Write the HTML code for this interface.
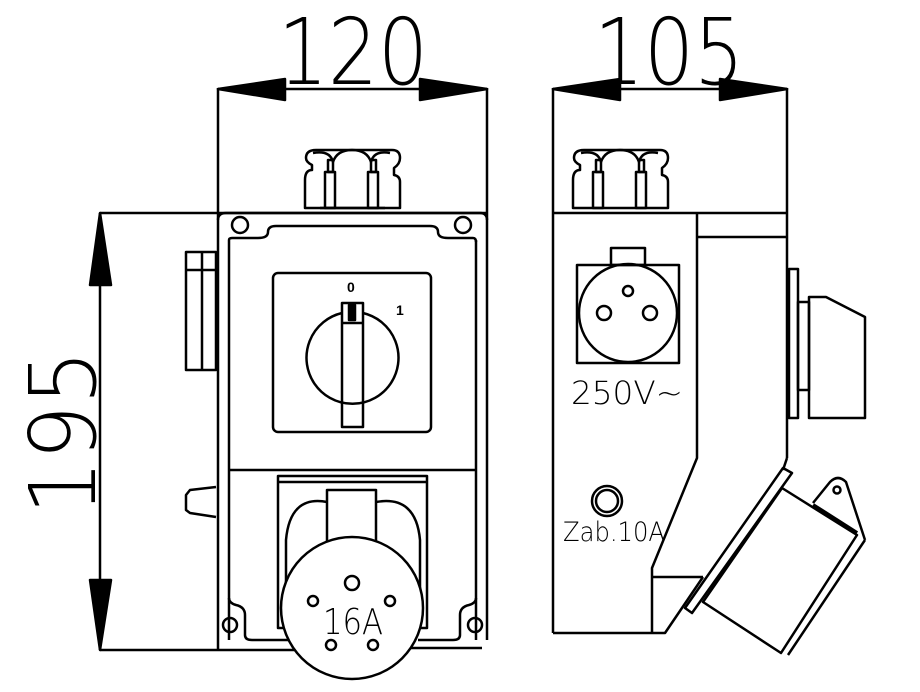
<!DOCTYPE html>
<html><head><meta charset="utf-8"><style>html,body{margin:0;padding:0;background:#fff}svg{display:block}</style></head>
<body>
<svg width="920" height="692" viewBox="0 0 920 692" xmlns="http://www.w3.org/2000/svg">
<g fill="none" stroke="#000" stroke-width="2.5" stroke-linejoin="round">
<line x1="218" y1="89" x2="487" y2="89"/>
<polygon points="218,89 285,79 285,100" fill="#000"/>
<polygon points="487,89 420,79 420,100" fill="#000"/>
<line x1="218" y1="88" x2="218" y2="650"/>
<line x1="487" y1="88" x2="487" y2="640"/>
<line x1="553" y1="89" x2="787" y2="89"/>
<polygon points="553,89 620,79 620,100" fill="#000"/>
<polygon points="787,89 720,79 720,100" fill="#000"/>
<line x1="553" y1="88" x2="553" y2="633"/>
<line x1="787" y1="88" x2="787" y2="458"/>
<line x1="100" y1="213" x2="100" y2="650"/>
<polygon points="100,213 90,285 111,285" fill="#000"/>
<polygon points="100,650 90,580 111,580" fill="#000"/>
<line x1="100" y1="213" x2="487" y2="213"/>
<line x1="100" y1="650" x2="300" y2="650"/>
<line x1="406" y1="648" x2="482" y2="648"/>

<path d="M218,220 Q218,213 226,213 L480,213 Q487,213 487,220"/>
<path d="M229,240 L229,640 M476,240 L476,640"/>
<path d="M232,238 L258,238 Q268,238 268,232 Q268,226 276,226 L430,226 Q438,226 438,232 Q438,238 448,238 L473,238 Q476,238 476,242"/>
<path d="M229,240 Q229,238 232,238"/>
<path d="M229,598 Q229,603 236,605 Q245,607 245,615 L245,635 Q245,640 252,640 L290,640"/>
<path d="M476,598 Q476,603 469,605 Q460,607 460,615 L460,635 Q460,640 453,640 L418,640"/>
<circle cx="240" cy="225" r="8"/><circle cx="463" cy="225" r="8"/>
<circle cx="230" cy="625" r="7"/><circle cx="475" cy="625" r="7"/>
<line x1="229" y1="470" x2="476" y2="470"/>
<rect x="273" y="273" width="158" height="159" rx="5"/>
<path d="M342,313 A46,46 0 1 0 363,313"/>
<rect x="342" y="303" width="21" height="124"/>
<line x1="342" y1="323" x2="363" y2="323"/>
<rect x="349" y="305" width="6" height="15" fill="#000"/>
<path d="M305,208 L305,180 Q305,170 312,170 L312,165 Q306,162 306,158 Q306,150 316,150 L392,150 Q400,150 400,158 Q400,164 394,168 L394,175 Q400,176 400,182 L400,208 Z"/>
<path d="M313,153 Q330,150 333,162 Q337,150 352,150 Q367,150 371,162 Q374,150 390,153"/>
<rect x="325" y="172" width="10" height="36"/><rect x="368" y="172" width="10" height="36"/>
<rect x="328" y="160" width="5" height="12"/><rect x="371" y="160" width="5" height="12"/>
<line x1="320" y1="208" x2="385" y2="208"/>
<rect x="186" y="252" width="30" height="118"/>
<line x1="202" y1="252" x2="202" y2="370"/>
<line x1="186" y1="270" x2="216" y2="270"/>
<path d="M216,487 L190,490 L186,495 L186,510 L190,513 L216,517"/>
<rect x="278" y="476" width="149" height="152"/>
<line x1="278" y1="482" x2="427" y2="482"/>
<path d="M286,612 L286,540 Q290,495 327,502 M376,502 Q416,495 420,540 L420,612"/>
<rect x="327" y="490" width="49" height="70"/>
<circle cx="352" cy="608" r="71" fill="#fff"/>
<circle cx="352" cy="583" r="7"/>
<circle cx="313" cy="601" r="5"/><circle cx="390" cy="601" r="5"/>
<circle cx="331" cy="645" r="5"/><circle cx="373" cy="645" r="5"/>

<line x1="553" y1="213" x2="787" y2="213"/>
<path d="M697,213 L697,458 L652,568 L652,633 L553,633 M652,633 L665,633 L703,577 M652,577 L703,577"/>
<line x1="697" y1="237" x2="787" y2="237"/>
<path d="M787,458 L783,470"/>
<g transform="translate(268,0)">
<path d="M305,208 L305,180 Q305,170 312,170 L312,165 Q306,162 306,158 Q306,150 316,150 L392,150 Q400,150 400,158 Q400,164 394,168 L394,175 Q400,176 400,182 L400,208 Z"/>
<path d="M313,153 Q330,150 333,162 Q337,150 352,150 Q367,150 371,162 Q374,150 390,153"/>
<rect x="325" y="172" width="10" height="36"/><rect x="368" y="172" width="10" height="36"/>
<rect x="328" y="160" width="5" height="12"/><rect x="371" y="160" width="5" height="12"/>
</g>
<rect x="577" y="265" width="102" height="98"/>
<rect x="611" y="248" width="34" height="17"/>
<circle cx="628" cy="313" r="49"/>
<circle cx="628" cy="291" r="5"/>
<circle cx="604" cy="313" r="7"/><circle cx="650" cy="313" r="7"/>
<circle cx="607" cy="501" r="15"/><circle cx="607" cy="501" r="11"/>
<rect x="789" y="269" width="9" height="149"/>
<rect x="798" y="302" width="11" height="88"/>
<path d="M809,297 L826,297 L865,317 L865,418 L809,418 Z"/>
<polygon points="783,468 792,473 692,613 685,608"/>
<polygon points="782,488 857,535 781,653 703,602"/>
<line x1="865" y1="540" x2="788" y2="655"/>
<path d="M813,503 L830,482 Q838,474 846,482 L865,540"/>
<circle cx="837" cy="490" r="3.5"/>
<line x1="813" y1="505" x2="857" y2="533" stroke-width="4"/>
</g>
<g font-family="DejaVu Sans ExtraLight, DejaVu Sans, Liberation Sans, sans-serif" font-weight="200" fill="#000">
<text x="278" y="84" font-size="92" textLength="150" lengthAdjust="spacingAndGlyphs">120</text>
<text x="594" y="84" font-size="92" textLength="150" lengthAdjust="spacingAndGlyphs">105</text>
<text transform="translate(95,515) rotate(-90)" font-size="92" textLength="165" lengthAdjust="spacingAndGlyphs">195</text>
<text x="323" y="634" font-size="36" textLength="60" lengthAdjust="spacingAndGlyphs">16A</text>
<text x="571" y="404" font-size="32" textLength="112" lengthAdjust="spacingAndGlyphs">250V~</text>
<text x="563" y="541" font-size="27" textLength="102" lengthAdjust="spacingAndGlyphs">Zab.10A</text>
</g>
<g font-family="Liberation Sans, sans-serif" fill="#000">
<text x="347" y="292" font-size="14" font-weight="bold">0</text>
<text x="396" y="315" font-size="14" font-weight="bold">1</text>
</g>
</svg>
</body></html>
